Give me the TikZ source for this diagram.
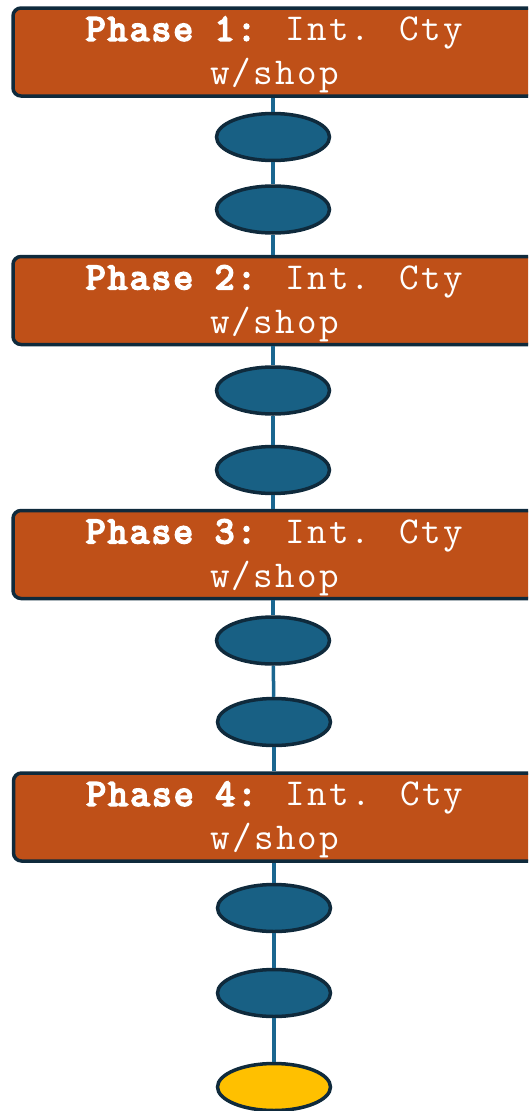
\documentclass[tikz,border=0pt]{standalone}
\usepackage{fontspec}
\newfontfamily\monoreg{Latin Modern Mono}[LetterSpace=6]
\newfontfamily\monobold{Latin Modern Mono}[LetterSpace=6, FakeBold=5]
\usetikzlibrary{shapes.geometric}
\definecolor{boxfill}{HTML}{BF5018}
\definecolor{edgedark}{HTML}{0F2A3C}
\definecolor{ellfill}{HTML}{186084}
\definecolor{linkcol}{HTML}{1A6690}
\definecolor{goldfill}{HTML}{FFC000}
\tikzset{
  phasebox/.style={draw=edgedark, line width=3.5pt, fill=boxfill, rounded corners=8pt,
    minimum width=523pt, minimum height=88pt, inner sep=0pt},
  phaselabel/.style={text=white, align=center, inner sep=0pt, yshift=-3pt,
    font=\monoreg\fontsize{38}{44}\selectfont},
  stepell/.style={ellipse, draw=edgedark, line width=3.5pt, fill=ellfill,
    minimum width=113pt, minimum height=47pt, inner sep=0pt},
  endell/.style={stepell, fill=goldfill},
  link/.style={draw=linkcol, line width=3.5pt}
}
\newcommand{\phb}[1]{{\monobold #1}}
\begin{document}
\begin{tikzpicture}[x=1pt,y=1pt]
\useasboundingbox (0,0) rectangle (528,-1111);
\clip (0,0) rectangle (528,-1111);
\node[phasebox, label={[phaselabel]center:{\phb{Phase 1:} Int. Cty\\w/shop}}] (p1) at (274.5,-52) {};
\node[stepell] (e1) at (273,-137) {};
\node[stepell] (e2) at (273,-209.5) {};
\node[phasebox, label={[phaselabel]center:{\phb{Phase 2:} Int. Cty\\w/shop}}] (p2) at (274.5,-300.5) {};
\node[stepell] (e3) at (273,-390.5) {};
\node[stepell] (e4) at (273,-470) {};
\node[phasebox, label={[phaselabel]center:{\phb{Phase 3:} Int. Cty\\w/shop}}] (p3) at (274.5,-554.5) {};
\node[stepell] (e5) at (273,-640.5) {};
\node[stepell] (e6) at (274,-722) {};
\node[phasebox, label={[phaselabel]center:{\phb{Phase 4:} Int. Cty\\w/shop}}] (p4) at (275,-817) {};
\node[stepell] (e7) at (274,-908) {};
\node[stepell] (e8) at (274,-993) {};
\node[endell] (e9) at (274,-1087) {};
\draw[link] (p1.south -| e1) -- (e1.north);
\draw[link] (e1) -- (e2);
\draw[link] (e2.south) -- (p2.north -| e2);
\draw[link] (p2.south -| e3) -- (e3.north);
\draw[link] (e3) -- (e4);
\draw[link] (e4.south) -- (p3.north -| e4);
\draw[link] (p3.south -| e5) -- (e5.north);
\draw[link] (e5) -- (e6);
\draw[link] (e6.south) -- (p4.north -| e6);
\draw[link] (p4.south -| e7) -- (e7.north);
\draw[link] (e7) -- (e8);
\draw[link] (e8.south) -- (e9.north);
\end{tikzpicture}
\end{document}
